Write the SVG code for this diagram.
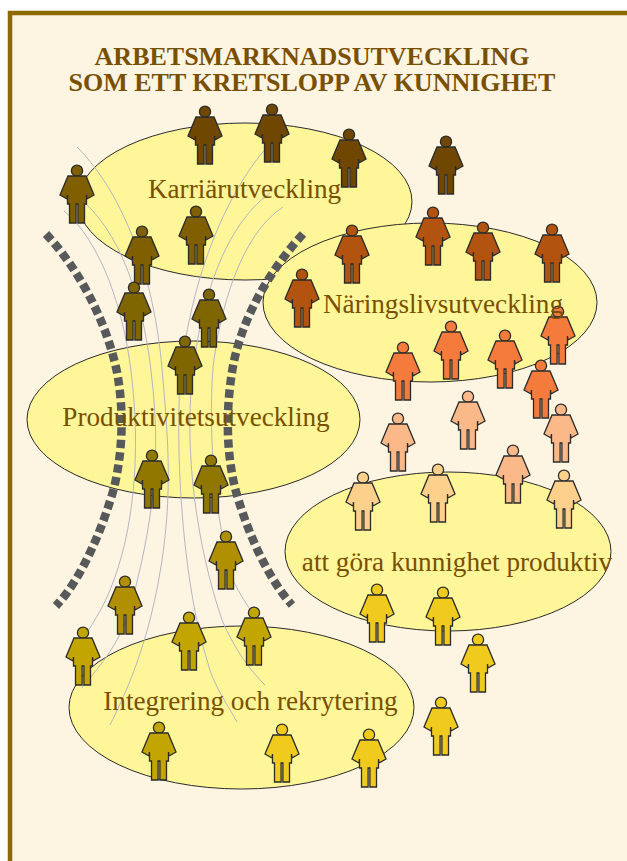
<svg xmlns="http://www.w3.org/2000/svg" width="627" height="861" viewBox="0 0 627 861">
<style>
.e{fill:#fff599;stroke:#2b2b2b;stroke-width:1}
.t{font-family:"Liberation Serif",serif;fill:#785000;text-anchor:middle}
.h{font-size:26px;font-weight:bold}
.l{font-size:27.2px}
.c{fill:none;stroke:#b4b6c4;stroke-width:1}
.d{fill:none;stroke:#58595b;stroke-width:8.500;stroke-dasharray:8.300 4.200}
.p{stroke:#2b2b2b;stroke-width:1.300}
</style>
<defs>
<g id="person">
<circle cx="0" cy="5.700" r="5.600"/>
<path d="M-9 11H9L17 30L10 34L9.500 30V39H7.500V58H0.900V39H-0.900V58H-7.500V39H-9.500V30L-10 34L-17 30Z"/>
</g>
</defs>
<rect width="627" height="861" fill="#fff"/>
<path d="M10 880V13H640V880Z" fill="#fef4e2" stroke="#8c6a00" stroke-width="4.500"/>
<g id="ellipses">
<ellipse class="e" cx="245" cy="201.500" rx="167" ry="78.500"/>
<ellipse class="e" cx="430" cy="302.500" rx="167" ry="79.500"/>
<ellipse class="e" cx="193.500" cy="419.500" rx="166.500" ry="78.500"/>
<ellipse class="e" cx="448" cy="551.500" rx="163" ry="79.500"/>
<ellipse class="e" cx="241.500" cy="707.500" rx="172.500" ry="81.500"/>
</g>
<g id="connectors">
<path class="c" d="M77 147C120 190 155 270 163 380C169 450 175 520 150 620C138 665 125 695 110 725"/>
<path class="c" d="M64 211C100 240 125 310 132 380C140 450 135 530 110 590C100 615 85 635 72 655"/>
<path class="c" d="M85 203C125 240 145 310 152 380C160 450 155 510 135 590C125 640 100 665 82 688"/>
<path class="c" d="M267 147C225 195 190 280 180 380C175 470 185 590 207 660C213 685 225 700 237 722"/>
<path class="c" d="M270 193C225 225 200 300 192 380C185 450 195 540 222 620C235 650 250 670 265 685"/>
<path class="c" d="M283 207C240 235 220 310 213 367C208 440 215 520 233 580C240 595 247 605 253 613"/>
<path class="d" d="M46 234C75 265 105 315 117 372C124 410 123 450 114 488C105 520 85 575 56 606"/>
<path class="d" d="M303 234C270 270 240 320 232 372C226 410 226 450 235 488C245 525 265 575 292 605"/>
</g>
<g id="people">
<use id="p1" class="p" href="#person" x="205" y="106" fill="#6f4700"/>
<use id="p2" class="p" href="#person" x="272" y="104" fill="#6f4700"/>
<use id="p3" class="p" href="#person" x="349" y="129" fill="#6f4700"/>
<use id="p4" class="p" href="#person" x="446" y="136" fill="#6f4700"/>
<use id="p5" class="p" href="#person" x="77" y="165" fill="#7f5f00"/>
<use id="p6" class="p" href="#person" x="142" y="226" fill="#7f5f00"/>
<use id="p7" class="p" href="#person" x="196" y="206" fill="#7f5f00"/>
<use id="p8" class="p" href="#person" x="134" y="282" fill="#7f6600"/>
<use id="p9" class="p" href="#person" x="209" y="289" fill="#7f6600"/>
<use id="p10" class="p" href="#person" x="185" y="336" fill="#7f6600"/>
<use id="p11" class="p" href="#person" x="152" y="450" fill="#8f7700"/>
<use id="p12" class="p" href="#person" x="211" y="455" fill="#8f7700"/>
<use id="p13" class="p" href="#person" x="226" y="531" fill="#b09000"/>
<use id="p14" class="p" href="#person" x="125" y="576" fill="#b09000"/>
<use id="p15" class="p" href="#person" x="83" y="627" fill="#c3a500"/>
<use id="p16" class="p" href="#person" x="189" y="612" fill="#c3a500"/>
<use id="p17" class="p" href="#person" x="254" y="607" fill="#c3a500"/>
<use id="p18" class="p" href="#person" x="159" y="722" fill="#c3a500"/>
<use id="p19" class="p" href="#person" x="282" y="724" fill="#f0cb1e"/>
<use id="p20" class="p" href="#person" x="369" y="729" fill="#f0cb1e"/>
<use id="p21" class="p" href="#person" x="441" y="697" fill="#f0cb1e"/>
<use id="p22" class="p" href="#person" x="377" y="584" fill="#f0cb1e"/>
<use id="p23" class="p" href="#person" x="443" y="587" fill="#f0cb1e"/>
<use id="p24" class="p" href="#person" x="478" y="634" fill="#f0cb1e"/>
<use id="p25" class="p" href="#person" x="363" y="472" fill="#fdd08c"/>
<use id="p26" class="p" href="#person" x="438" y="464" fill="#fdd08c"/>
<use id="p27" class="p" href="#person" x="564" y="470" fill="#fdd08c"/>
<use id="p28" class="p" href="#person" x="513" y="445" fill="#fbb98a"/>
<use id="p29" class="p" href="#person" x="398" y="413" fill="#fbb98a"/>
<use id="p30" class="p" href="#person" x="468" y="391" fill="#fbb98a"/>
<use id="p31" class="p" href="#person" x="561" y="404" fill="#fbb98a"/>
<use id="p32" class="p" href="#person" x="403" y="342" fill="#f57b3d"/>
<use id="p33" class="p" href="#person" x="451" y="321" fill="#f57b3d"/>
<use id="p34" class="p" href="#person" x="505" y="330" fill="#f57b3d"/>
<use id="p35" class="p" href="#person" x="558" y="306" fill="#f57b3d"/>
<use id="p36" class="p" href="#person" x="541" y="360" fill="#f57b3d"/>
<use id="p37" class="p" href="#person" x="302" y="269" fill="#b35310"/>
<use id="p38" class="p" href="#person" x="352" y="225" fill="#b35310"/>
<use id="p39" class="p" href="#person" x="433" y="207" fill="#b35310"/>
<use id="p40" class="p" href="#person" x="483" y="222" fill="#b35310"/>
<use id="p41" class="p" href="#person" x="552" y="224" fill="#b35310"/>
</g>
<g id="labels">
<text class="t h" x="312" y="64.500">ARBETSMARKNADSUTVECKLING</text>
<text class="t h" x="312" y="90.700">SOM ETT KRETSLOPP AV KUNNIGHET</text>
<text class="t l" x="244.500" y="198">Karriärutveckling</text>
<text class="t l" x="443" y="313">Näringslivsutveckling</text>
<text class="t l" x="196" y="426">Produktivitetsutveckling</text>
<text class="t l" x="457" y="571">att göra kunnighet produktiv</text>
<text class="t l" x="250.500" y="710">Integrering och rekrytering</text>
</g>
</svg>
